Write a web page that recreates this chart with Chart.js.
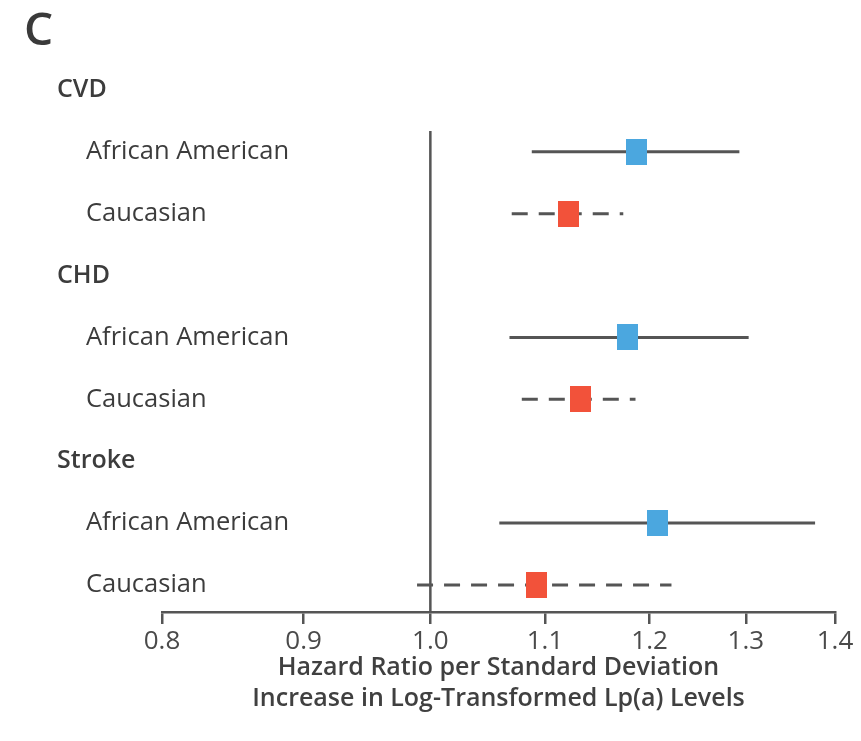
<!DOCTYPE html>
<html>
<head>
<meta charset="utf-8">
<script src="https://cdn.jsdelivr.net/npm/chart.js@4.4.0/dist/chart.umd.min.js"></script>
<style>
  html, body { margin: 0; padding: 0; background: #fff; }
  #chart-wrapper { width: 861px; height: 741px; position: relative; }
</style>
</head>
<body>
<div id="chart-wrapper"><canvas id="chart"></canvas></div>
<script>
var rowLabels = ['CVD', 'African American', 'Caucasian', 'CHD', 'African American', 'Caucasian', 'Stroke', 'African American', 'Caucasian'];
var headerRows = [0, 3, 6];

var aaRows = [1, 4, 7];
var aaEstimate = [1.187, 1.178, 1.208];
var aaLower = [1.088, 1.068, 1.059];
var aaUpper = [1.293, 1.303, 1.377];

var cauRows = [2, 5, 8];
var cauEstimate = [1.122, 1.133, 1.092];
var cauLower = [1.070, 1.079, 0.989];
var cauUpper = [1.174, 1.186, 1.222];

var xTicks = [0.8, 0.9, 1.0, 1.1, 1.2, 1.3, 1.4];
var refValue = 1.0;
var axisTitle = ['Hazard Ratio per Standard Deviation', 'Increase in Log-Transformed Lp(a) Levels'];

var lineColor = '#555555';
var textColor = '#3c3c3c';
var fontFamily = '"Open Sans", "Noto Sans", sans-serif';

function makeBox(color) {
  var c = document.createElement('canvas');
  c.width = 21;
  c.height = 26;
  var g = c.getContext('2d');
  g.fillStyle = color;
  g.fillRect(0, 0, 21, 26);
  return c;
}

var datasets = [];

datasets.push({
  label: 'African American',
  data: aaRows.map(function(r, i) { return {x: aaEstimate[i], y: r}; }),
  pointStyle: makeBox('#4ba7df'),
  showLine: false
});
datasets.push({
  label: 'Caucasian',
  data: cauRows.map(function(r, i) { return {x: cauEstimate[i], y: r}; }),
  pointStyle: makeBox('#f2523a'),
  showLine: false
});

aaRows.forEach(function(r, i) {
  datasets.push({
    data: [{x: aaLower[i], y: r}, {x: aaUpper[i], y: r}],
    showLine: true,
    borderColor: lineColor,
    borderWidth: 3,
    pointRadius: 0
  });
});
cauRows.forEach(function(r, i) {
  datasets.push({
    data: [{x: cauLower[i], y: r}, {x: cauUpper[i], y: r}],
    showLine: true,
    borderColor: lineColor,
    borderWidth: 3,
    borderDash: [16, 11],
    pointRadius: 0
  });
});

// vertical line at HR = 1
datasets.push({
  data: [{x: refValue, y: 0.664}, {x: refValue, y: 8.437}],
  showLine: true,
  borderColor: lineColor,
  borderWidth: 2.5,
  pointRadius: 0
});

var rowLabelPlugin = {
  id: 'rowLabels',
  afterDraw: function(chart) {
    var ctx = chart.ctx;
    var y = chart.scales.y;
    ctx.save();
    ctx.textBaseline = 'middle';
    ctx.textAlign = 'left';
    ctx.fillStyle = textColor;
    rowLabels.forEach(function(label, i) {
      var header = headerRows.indexOf(i) >= 0;
      ctx.font = (header ? '600 25px ' : '25.5px ') + fontFamily;
      ctx.fillText(label, header ? 57 : 86, y.getPixelForValue(i));
    });
    ctx.fillStyle = '#3a3a3a';
    ctx.font = '600 46px ' + fontFamily;
    ctx.fillText('C', 24, 32);
    ctx.restore();
  }
};

var ctx = document.getElementById('chart');
var chart = new Chart(ctx, {
  type: 'scatter',
  data: {datasets: datasets},
  plugins: [rowLabelPlugin],
  options: {
    responsive: true,
    maintainAspectRatio: false,
    animation: false,
    layout: {
      padding: {left: 162, right: 26, top: 59, bottom: 0}
    },
    plugins: {
      legend: {display: false},
      tooltip: {enabled: false}
    },
    scales: {
      x: {
        type: 'logarithmic',
        min: 0.8,
        max: 1.4,
        afterBuildTicks: function(scale) {
          scale.ticks = xTicks.map(function(v) { return {value: v}; });
        },
        afterFit: function(scale) {
          scale.height = 129;
        },
        ticks: {
          autoSkip: false,
          maxRotation: 0,
          padding: 2,
          color: '#4a4a4a',
          font: {family: fontFamily, size: 26},
          callback: function(value) { return Number(value).toFixed(1); }
        },
        grid: {
          drawOnChartArea: false,
          drawTicks: true,
          tickLength: 12,
          color: lineColor,
          lineWidth: 2.5
        },
        border: {color: lineColor, width: 2.5},
        title: {
          display: true,
          text: axisTitle,
          color: '#404040',
          font: {family: fontFamily, size: 25, weight: '600', lineHeight: 1.24},
          padding: {top: 0, bottom: 27}
        }
      },
      y: {
        type: 'linear',
        reverse: true,
        min: -0.5,
        max: 8.437,
        display: false
      }
    }
  }
});
</script>
</body>
</html>
